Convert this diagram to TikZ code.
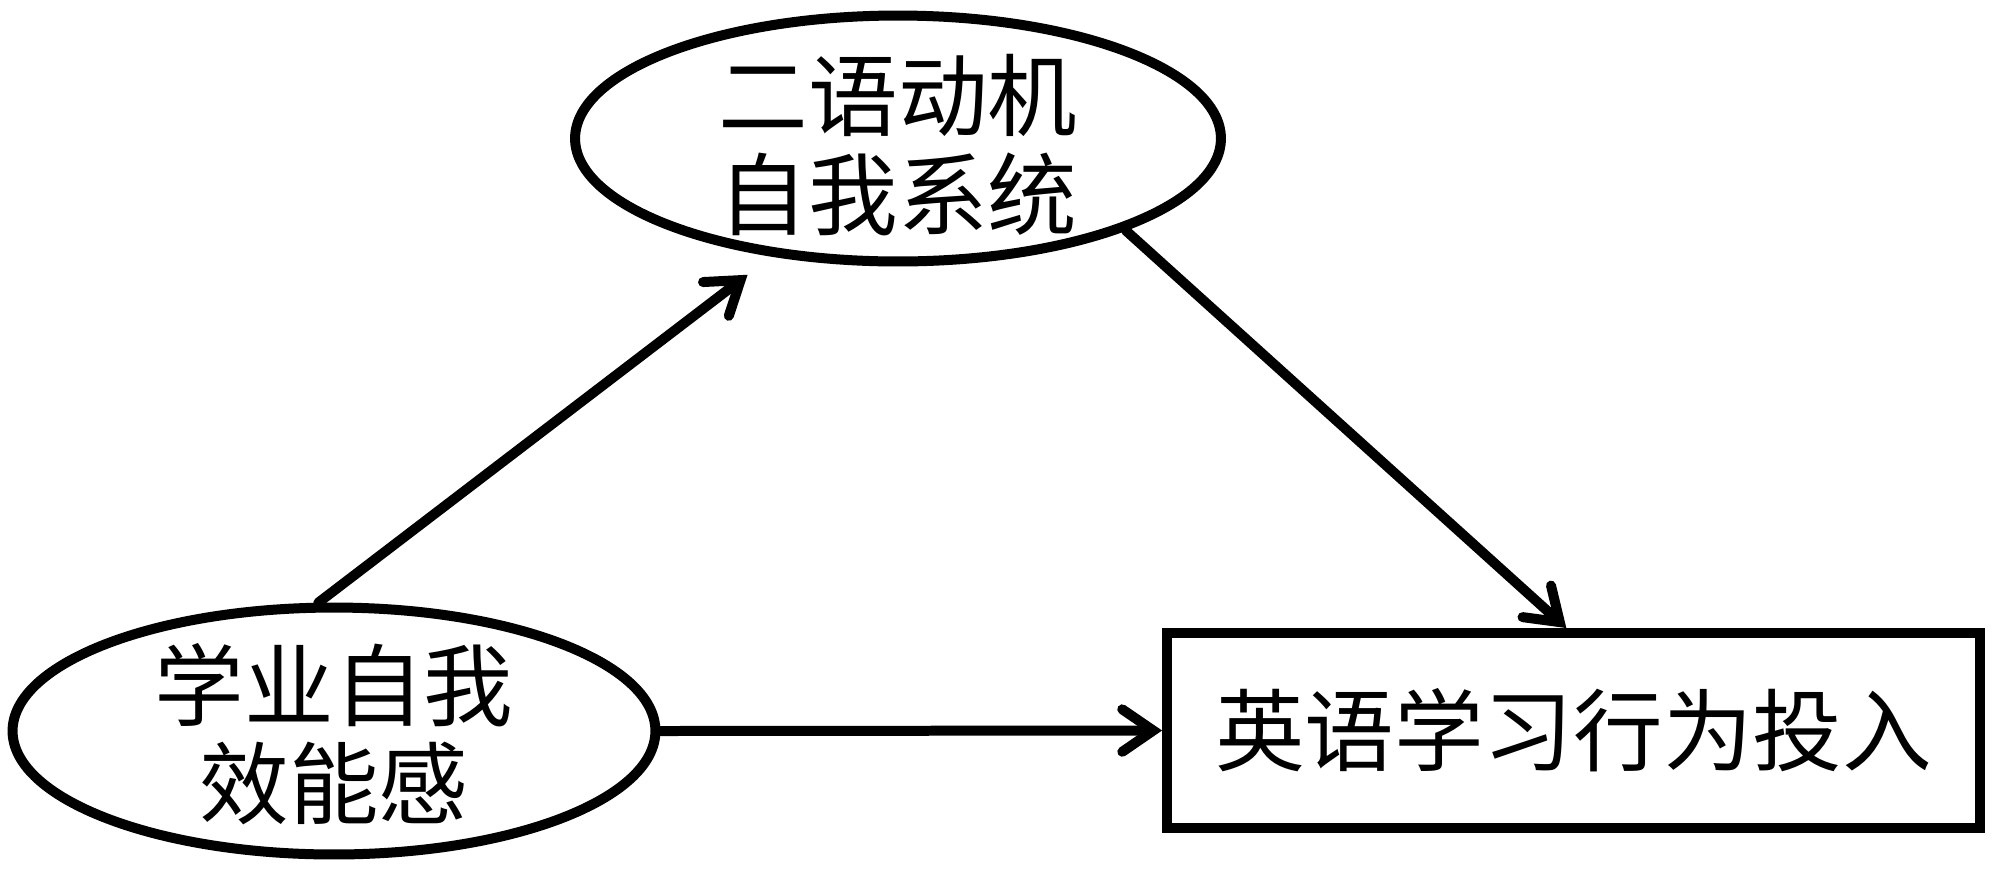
\documentclass[tikz,border=0pt]{standalone}
\usepackage{fontspec}
\setmainfont{Noto Sans CJK SC}
\usetikzlibrary{shapes.geometric,arrows.meta}
\begin{document}
\begin{tikzpicture}[x=0.02cm,y=-0.02cm,
  lw/.style={line width=0.2cm},
  oval/.style={ellipse, draw, lw, inner sep=0pt},
  ovaltext/.style={align=center, inner sep=0pt, font={\fontsize{51pt}{56pt}\selectfont}},
  arr/.style={lw, line cap=round, line join=round, -{Straight Barb[length=0.62cm,width=0.85cm,line cap=round]}}]
\useasboundingbox (0,0) rectangle (2000,877);
% nodes
\node[oval, minimum width=12.92cm, minimum height=4.92cm] (m) at (898,138.5) {};
\node[ovaltext] (mt) at (898,145) {二语动机\\自我系统};
\node[oval, minimum width=12.86cm, minimum height=4.94cm] (b) at (334,731) {};
\node[ovaltext] (bt) at (334,734) {学业自我\\效能感};
\node[draw, lw, rectangle, minimum width=16.26cm, minimum height=3.9cm, inner sep=0pt,
      font={\fontsize{51pt}{56pt}\selectfont}] (r) at (1573.5,730.5) {英语学习行为投入};
% connectors
\draw[arr, shorten >=0.6cm] (b.97) -- (m.223);
\draw[arr] (m.338) -- (r.94);
\draw[arr] (b.east) -- (r.west);
\end{tikzpicture}
\end{document}
